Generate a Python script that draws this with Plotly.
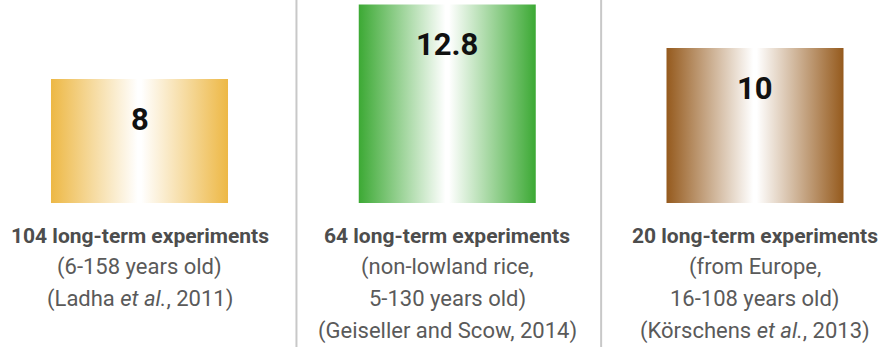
import plotly.graph_objects as go

# ---- data ----
values = [8, 12.8, 10]
value_labels = ["8", "12.8", "10"]
edge_colors = ["#EDB845", "#3CA934", "#955A1D"]
label_lines = [
    ["104 long-term experiments", "(6-158 years old)", "(Ladha <i>et al.</i>, 2011)"],
    ["64 long-term experiments", "(non-lowland rice,", "5-130 years old)", "(Geiseller and Scow, 2014)"],
    ["20 long-term experiments", "(from Europe,", "16-108 years old)", "(Körschens <i>et al.</i>, 2013)"],
]

W, H = 889, 355
positions = [0, 1, 2]
half_w = 0.2876
x_range = [-0.4533, 2.4354]
y_range = [-9.806, 13.097]

fig = go.Figure()
for pos, v, col in zip(positions, values, edge_colors):
    fig.add_trace(go.Scatter(
        x=[pos - half_w, pos + half_w, pos + half_w, pos - half_w, pos - half_w],
        y=[0, 0, v, v, 0],
        mode="lines", fill="toself", line=dict(width=0),
        fillgradient=dict(type="horizontal",
                          colorscale=[[0, col], [0.49, "#ffffff"], [0.51, "#ffffff"], [1, col]]),
        hoverinfo="skip", showlegend=False,
    ))

annotations = []
for pos, v, t in zip(positions, values, value_labels):
    annotations.append(dict(x=pos, y=v, xref="x", yref="y", text=t, showarrow=False,
                            yanchor="middle", yshift=-40,
                            font=dict(family="Roboto", size=31, color="#111111", weight="bold")))

line_px = [236, 267, 299, 331]
for pos, lines in zip(positions, label_lines):
    for i, ln in enumerate(lines):
        annotations.append(dict(
            x=pos, y=1 - line_px[i] / H, xref="x", yref="paper", text=ln, showarrow=False,
            yanchor="middle",
            font=dict(family="Roboto", size=21 if i == 0 else 22,
                      color="#4d4d4d" if i == 0 else "#5a5a5a",
                      weight="bold" if i == 0 else "normal")))

shapes = []
for mid in [0.51, 1.5]:
    shapes.append(dict(type="line", xref="x", yref="paper", x0=mid, x1=mid, y0=1, y1=1 - 347 / H,
                       line=dict(color="#c8c8c8", width=2)))

fig.update_layout(
    width=W, height=H, margin=dict(l=0, r=0, t=0, b=0),
    paper_bgcolor="white", plot_bgcolor="white",
    xaxis=dict(range=x_range, visible=False, fixedrange=True),
    yaxis=dict(range=y_range, visible=False, fixedrange=True),
    annotations=annotations, shapes=shapes,
)
fig.write_html("out.html")
